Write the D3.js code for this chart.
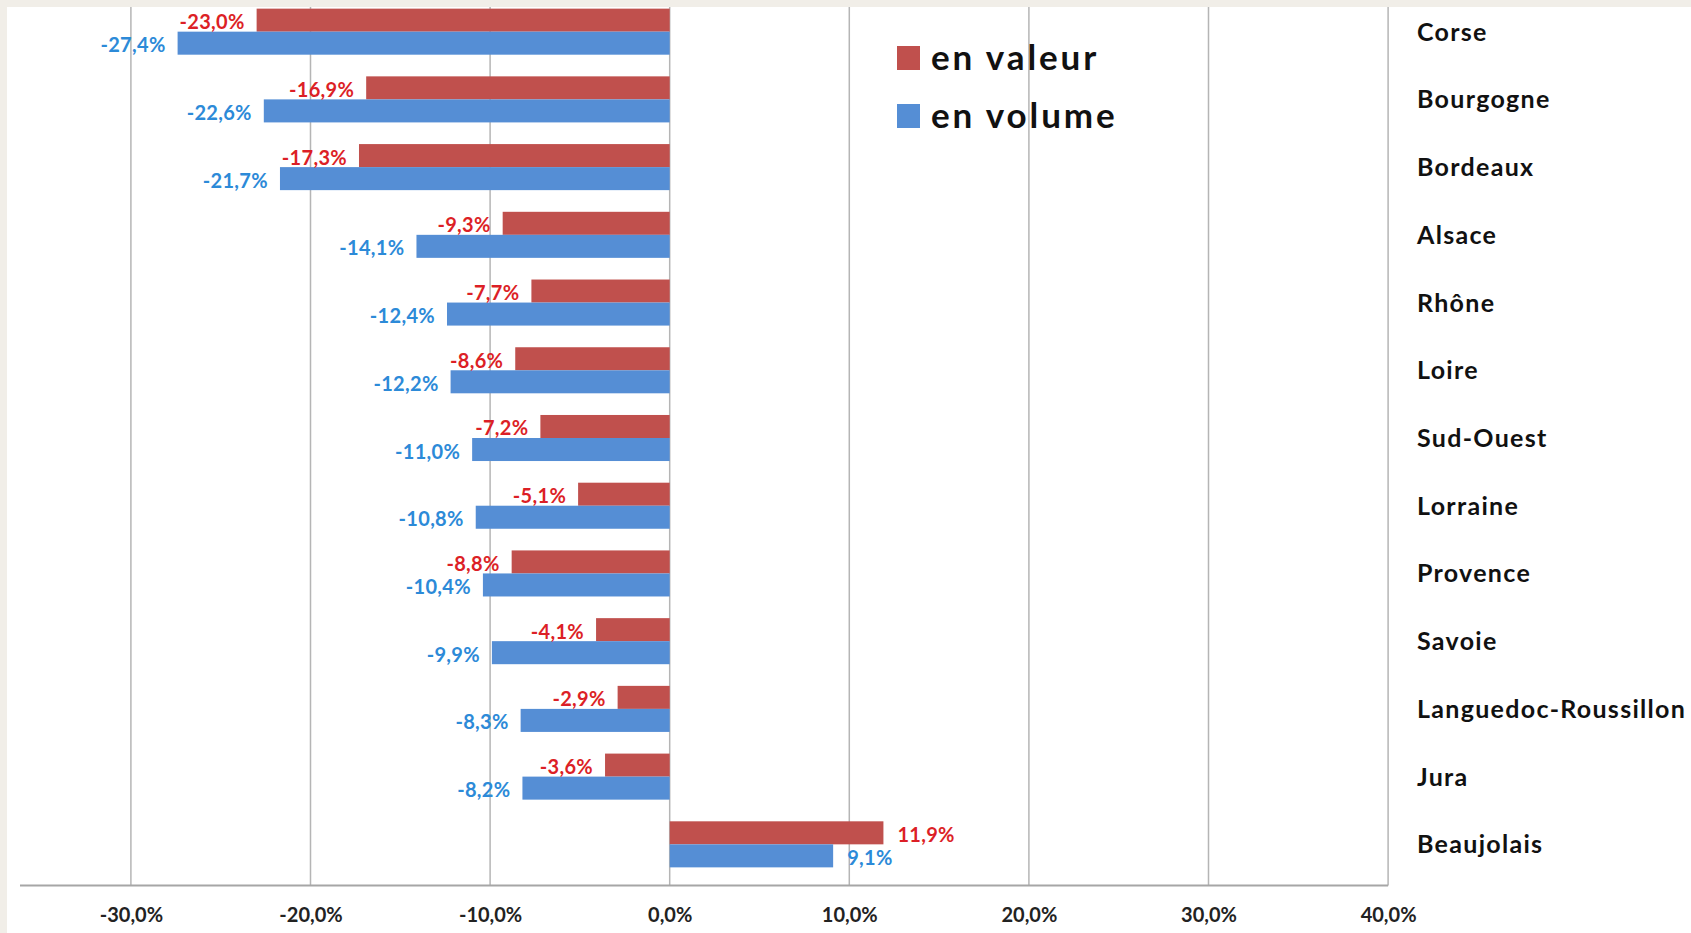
<!DOCTYPE html>
<html><head><meta charset="utf-8">
<script src="https://cdn.jsdelivr.net/npm/d3@7/dist/d3.min.js"></script>
<style>
html,body{margin:0;padding:0;background:#f1eee8;overflow:hidden}
svg{display:block}
text{font-family:Lato,"Open Sans",sans-serif;font-weight:700}
</style></head><body>
<svg id="chart" width="1691" height="933"></svg>
<script>
const categories = ["Corse","Bourgogne","Bordeaux","Alsace","Rhône","Loire","Sud-Ouest","Lorraine","Provence","Savoie","Languedoc-Roussillon","Jura","Beaujolais"];
const enValeur = [-23.0,-16.9,-17.3,-9.3,-7.7,-8.6,-7.2,-5.1,-8.8,-4.1,-2.9,-3.6,11.9];
const enVolume = [-27.4,-22.6,-21.7,-14.1,-12.4,-12.2,-11.0,-10.8,-10.4,-9.9,-8.3,-8.2,9.1];
const seriesNames = ["en valeur","en volume"];
const tickValues = [-30,-20,-10,0,10,20,30,40];

const W = 1691, H = 933;
const svg = d3.select("#chart");
const fmt = v => d3.format(".1f")(v).replace(".", ",").replace("−","-") + "%";

svg.append("rect").attr("width",W).attr("height",H).attr("fill","#f1eee8");
svg.append("rect").attr("x",7).attr("y",7).attr("width",W-7).attr("height",H-7).attr("fill","#ffffff");

const x = d3.scaleLinear().domain([-40,40]).range([-48.7,1388.1]);
const y = d3.scaleBand().domain(categories).range([-2.2,878.2]).paddingInner(0.32).paddingOuter(0.16);
const ys = d3.scaleBand().domain(seriesNames).range([0,y.bandwidth()]);
const colors = {"en valeur":"#c0504d","en volume":"#558ed5"};
const labelColors = {"en valeur":"#dc1f26","en volume":"#2c8ad8"};

const plotTop = 7, plotBottom = 885.5, plotLeft = 20;

svg.append("defs").append("clipPath").attr("id","clip")
  .append("rect").attr("x",7).attr("y",plotTop).attr("width",W).attr("height",plotBottom-plotTop);

// gridlines
svg.append("g").selectAll("line").data(tickValues).join("line")
  .attr("x1",d=>x(d)).attr("x2",d=>x(d)).attr("y1",plotTop).attr("y2",plotBottom)
  .attr("stroke","#b5b5b5").attr("stroke-width",1.5);

// axis
const axis = d3.axisBottom(x).tickValues(tickValues).tickSize(0).tickPadding(22).tickFormat(d=>fmt(d));
const ag = svg.append("g").attr("transform",`translate(0,${plotBottom})`).call(axis);
ag.select(".domain").remove();
ag.selectAll("text").attr("font-size",20).attr("fill","#222").attr("font-family","Lato").attr("font-weight",700);
svg.append("line").attr("x1",plotLeft).attr("x2",x(40)).attr("y1",plotBottom).attr("y2",plotBottom)
  .attr("stroke","#a6a6a6").attr("stroke-width",2);

const rows = categories.map((c,i)=>({cat:c, vals:[{s:"en valeur",v:enValeur[i]},{s:"en volume",v:enVolume[i]}]}));

const g = svg.append("g").attr("clip-path","url(#clip)");
const rg = g.selectAll("g.row").data(rows).join("g").attr("class","row")
  .attr("transform",d=>`translate(0,${y(d.cat)})`);
rg.selectAll("rect").data(d=>d.vals).join("rect")
  .attr("x",d=>x(Math.min(0,d.v))).attr("width",d=>Math.abs(x(d.v)-x(0)))
  .attr("y",d=>ys(d.s)).attr("height",ys.bandwidth())
  .attr("fill",d=>colors[d.s]);
rg.selectAll("text").data(d=>d.vals).join("text")
  .attr("x",d=>d.v<0 ? x(d.v)-12 : x(d.v)+14)
  .attr("y",d=>ys(d.s)+ys.bandwidth()/2+1)
  .attr("dominant-baseline","central")
  .attr("text-anchor",d=>d.v<0?"end":"start")
  .attr("font-size",20).attr("letter-spacing",0.3).attr("fill",d=>labelColors[d.s])
  .text(d=>fmt(d.v));

// category labels
svg.append("g").selectAll("text").data(categories).join("text")
  .attr("x",1417).attr("y",d=>y(d)+y.bandwidth()/2-1)
  .attr("dominant-baseline","central")
  .attr("font-size",25).attr("fill","#111").attr("letter-spacing",1.3)
  .text(d=>d);

// legend
const lg = svg.append("g").selectAll("g").data(seriesNames).join("g")
  .attr("transform",(d,i)=>`translate(897,${46+i*58})`);
lg.append("rect").attr("width",23).attr("height",24).attr("fill",d=>colors[d]);
lg.append("text").attr("x",34).attr("y",10).attr("dominant-baseline","central")
  .attr("font-size",35).attr("fill","#111").attr("letter-spacing",2.9)
  .text(d=>d);
</script></body></html>
